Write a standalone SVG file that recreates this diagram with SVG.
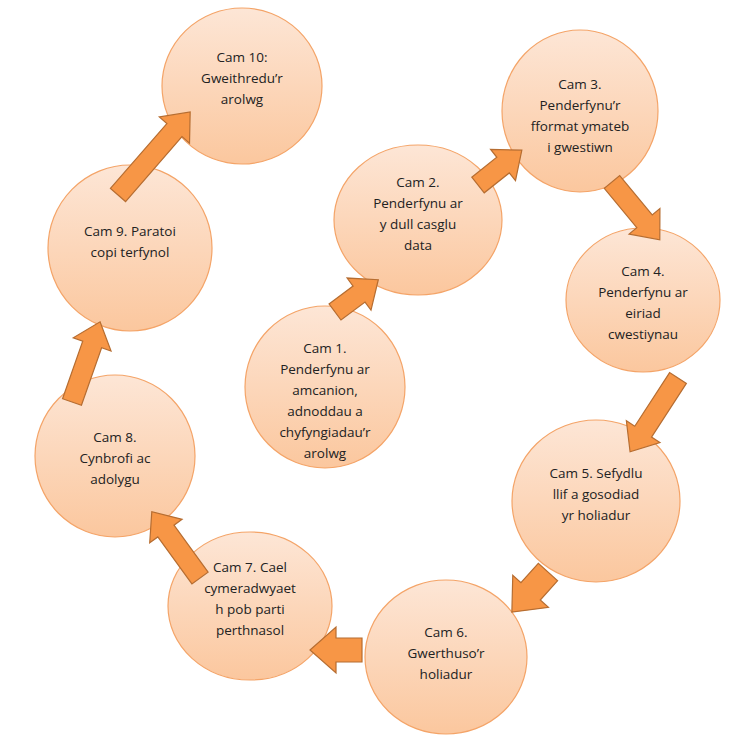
<svg xmlns="http://www.w3.org/2000/svg" width="747" height="744" viewBox="0 0 747 744">
<defs>
<linearGradient id="g" x1="0" y1="0" x2="0" y2="1"><stop offset="0" stop-color="#FDE6D6"/><stop offset="1" stop-color="#FBC79E"/></linearGradient>
<style>
.c{fill:url(#g);stroke:#F4A468;stroke-width:1.2}
.a{fill:#F79646;stroke:#B66D31;stroke-width:1.2}
text{font-family:"Open Sans","Liberation Sans",sans-serif;font-size:13.5px;fill:#222;text-anchor:middle}
</style>
</defs>
<rect width="747" height="744" fill="#fff"/>
<g id="n10"><ellipse class="c" cx="242" cy="86" rx="80" ry="78"/><text x="242" y="62">Cam 10:</text><text x="242" y="83">Gweithredu’r</text><text x="242" y="104">arolwg</text></g>
<g id="n3"><ellipse class="c" cx="580" cy="111" rx="78" ry="81"/><text x="580" y="89">Cam 3.</text><text x="580" y="110">Penderfynu’r</text><text x="580" y="131">fformat  ymateb</text><text x="580" y="152">i gwestiwn</text></g>
<g id="n2"><ellipse class="c" cx="418" cy="220" rx="84" ry="75"/><text x="418" y="187">Cam  2.</text><text x="418" y="208">Penderfynu  ar</text><text x="418" y="229">y dull  casglu</text><text x="418" y="250">data</text></g>
<g id="n9"><ellipse class="c" cx="130" cy="248" rx="82" ry="83"/><text x="130" y="236">Cam  9.  Paratoi</text><text x="130" y="257">copi terfynol</text></g>
<g id="n4"><ellipse class="c" cx="643" cy="300" rx="77" ry="72"/><text x="643" y="276">Cam 4.</text><text x="643" y="297">Penderfynu  ar</text><text x="643" y="318">eiriad</text><text x="643" y="339">cwestiynau</text></g>
<g id="n1"><ellipse class="c" cx="325" cy="387" rx="80" ry="81"/><text x="325" y="353">Cam 1.</text><text x="325" y="374">Penderfynu  ar</text><text x="325" y="395">amcanion,</text><text x="325" y="416">adnoddau a</text><text x="325" y="437">chyfyngiadau’r</text><text x="325" y="458">arolwg</text></g>
<g id="n8"><ellipse class="c" cx="115" cy="456" rx="80" ry="81"/><text x="115" y="442">Cam 8.</text><text x="115" y="463">Cynbrofi ac</text><text x="115" y="484">adolygu</text></g>
<g id="n5"><ellipse class="c" cx="596" cy="501" rx="84" ry="81"/><text x="596" y="478">Cam 5. Sefydlu</text><text x="596" y="499">llif a gosodiad</text><text x="596" y="520">yr holiadur</text></g>
<g id="n7"><ellipse class="c" cx="250" cy="606" rx="82" ry="74"/><text x="250" y="572">Cam 7. Cael</text><text x="250" y="593">cymeradwyaet</text><text x="250" y="614">h pob parti</text><text x="250" y="635">perthnasol</text></g>
<g id="n6"><ellipse class="c" cx="446" cy="657" rx="81" ry="77"/><text x="446" y="637">Cam 6.</text><text x="446" y="658">Gwerthuso’r</text><text x="446" y="679">holiadur</text></g>
<g id="connectors">
<polygon class="a" transform="translate(335,312) rotate(-36.7)" points="0,-10 30,-10 30,-20 54,0 30,20 30,10 0,10"/>
<polygon class="a" transform="translate(478,185) rotate(-38.5)" points="0,-10 32,-10 32,-20 56,0 32,20 32,10 0,10"/>
<polygon class="a" transform="translate(612,182) rotate(50.4)" points="0,-10 51,-10 51,-20 75,0 51,20 51,10 0,10"/>
<polygon class="a" transform="translate(678,378) rotate(123)" points="0,-10 64,-10 64,-20 88,0 64,20 64,10 0,10"/>
<polygon class="a" transform="translate(548,572) rotate(132)" points="0,-13 26,-13 26,-24 54,0 26,24 26,13 0,13"/>
<polygon class="a" transform="translate(362,650) rotate(180)" points="0,-12 26,-12 26,-23 52,0 26,23 26,12 0,12"/>
<polygon class="a" transform="translate(200,578) rotate(-126)" points="0,-10 58,-10 58,-20 82,0 58,20 58,10 0,10"/>
<polygon class="a" transform="translate(72,402) rotate(-70.7)" points="0,-10 61,-10 61,-20 85,0 61,20 61,10 0,10"/>
<polygon class="a" transform="translate(118,195) rotate(-49)" points="0,-10 86,-10 86,-20 110,0 86,20 86,10 0,10"/>
</g>
</svg>
